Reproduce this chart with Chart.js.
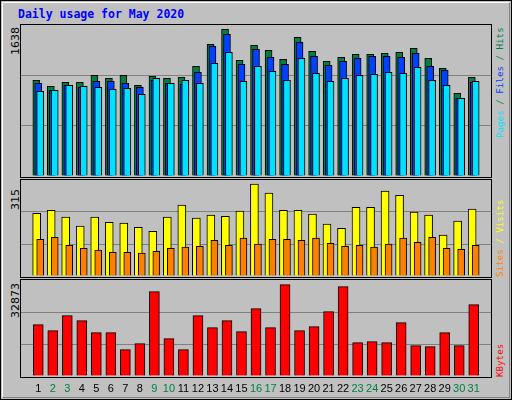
<!DOCTYPE html>
<html><head><meta charset="utf-8">
<script src="https://cdn.jsdelivr.net/npm/chart.js@4/dist/chart.umd.min.js"></script>
<style>
html,body{margin:0;padding:0;background:#fff}
#frame{position:absolute;left:0;top:0;width:510px;height:398px;background:#c0c0c0;border:1px solid #000;}
#inner{position:absolute;left:1px;top:1px;width:506px;height:394px;border-top:1px solid #fff;border-left:1px solid #fff;border-right:1px solid #808080;border-bottom:1px solid #808080}
.box{position:absolute;border:1px solid #000;background:#c0c0c0;box-sizing:content-box}
.t{position:absolute;white-space:nowrap;font-family:"DejaVu Sans Mono",monospace;font-weight:bold;font-size:11.5px}
.rot{position:absolute;transform-origin:0 0;transform:rotate(-90deg);white-space:nowrap;font-family:"DejaVu Sans",sans-serif;font-size:11px}
.rl{position:absolute;transform-origin:0 0;transform:rotate(-90deg);white-space:nowrap;font-family:"DejaVu Sans Mono",monospace;font-size:9.2px;line-height:12px}
canvas{position:absolute}
</style></head><body>
<div id="frame"><div id="inner"></div></div>
<div class="t" style="left:18px;top:7px;color:#0000ff">Daily usage for May 2020</div>
<div class="box" style="left:20px;top:24px;width:470px;height:152px"></div>
<div class="box" style="left:20px;top:179px;width:470px;height:97px"></div>
<div class="box" style="left:20px;top:279px;width:470px;height:97px"></div>
<div class="rot" style="left:9px;top:55px">1638</div>
<div class="rot" style="left:9px;top:210px">315</div>
<div class="rot" style="left:9px;top:318px">32873</div>
<div class="rl" style="left:494px;top:138px"><span style="color:#00e0ff">Pages</span><span style="color:#008040"> / </span><span style="color:#0040ff">Files</span><span style="color:#008040"> / Hits</span></div>
<div class="rl" style="left:494px;top:277px"><span style="color:#ff8000">Sites</span><span style="color:#ffff00"> / Visits</span></div>
<div class="rl" style="left:494px;top:377px;color:#ff0000">KBytes</div>
<canvas id="c1" style="left:21px;top:25px"></canvas>
<canvas id="c2" style="left:21px;top:180px"></canvas>
<canvas id="c3" style="left:21px;top:280px"></canvas>
<script>
const days=[1,2,3,4,5,6,7,8,9,10,11,12,13,14,15,16,17,18,19,20,21,22,23,24,25,26,27,28,29,30,31];
const dayLabels=["1","2","3","4","5","6","7","8","9","10","11","12","13","14","15","16","17","18","19","20","21","22","23","24","25","26","27","28","29","30","31"];
const weekend=[2,3,9,10,16,17,23,24,30,31];
const hits=[1045,979,1023,1023,1099,1067,1099,990,1088,1067,1077,1198,1438,1602,1263,1427,1372,1274,1514,1361,1252,1296,1329,1329,1340,1350,1394,1285,1176,903,1077];
const files=[1012,935,990,968,1034,1034,1012,968,1045,1012,1001,1132,1416,1547,1219,1383,1296,1219,1460,1307,1208,1252,1285,1307,1307,1296,1340,1198,1154,848,1023];
const pages=[925,935,990,979,968,946,957,892,1067,1012,1045,1012,1230,1350,1034,1198,1143,1045,1285,1121,1034,1067,1099,1110,1132,1121,1187,1045,990,848,1034];
const visits=[209,219,196,166,196,179,176,162,149,196,236,193,203,199,216,306,276,219,219,206,173,159,229,229,283,269,213,203,136,183,223];
const sites=[122,129,102,92,86,79,79,76,82,92,96,99,119,102,126,106,122,122,119,126,109,99,102,96,106,126,112,129,92,89,102];
const kbytes=[18080,15966,21249,19488,15262,15262,9275,11388,29702,13149,9275,21249,17023,19488,15614,23715,17023,32168,15966,17375,22658,31463,11740,12092,11740,18784,10683,10331,15262,10683,25124];

const pts=(arr,off)=>arr.map((v,i)=>({x:days[i]+off,y:v}));
const ds=(arr,off,color,w)=>({data:pts(arr,off),backgroundColor:color,borderColor:'#000',borderWidth:1,borderSkipped:'bottom',barThickness:w,grouped:false});
function mk(id,w,h,datasets,ymax,step,showX){
  const c=document.getElementById(id);
  c.width=w;c.height=h;c.style.width=w+'px';c.style.height=h+'px';
  return new Chart(c,{type:'bar',data:{datasets},
    options:{responsive:false,animation:false,devicePixelRatio:1,
      layout:{padding:0},
      plugins:{legend:{display:false},tooltip:{enabled:false}},
      scales:{
        x:{type:'linear',min:0.333,max:31.667,display:showX,
           grid:{display:false,drawTicks:false},border:{display:false},
           afterFit:s=>{s.height=showX?20:0},
           afterBuildTicks:s=>{s.ticks=days.map(d=>({value:d}))},
           ticks:{autoSkip:false,maxRotation:0,padding:6,font:{family:'Liberation Sans',size:11},
             callback:v=>dayLabels[v-1],
             color:ctx=>weekend.includes(days[ctx.index])?'#008040':'#000'}},
        y:{min:0,max:ymax,afterFit:s=>{s.width=0},
           ticks:{display:false,stepSize:step},
           grid:{color:ctx=>(ctx.tick.value>0&&ctx.tick.value<ymax)?'#808080':'rgba(0,0,0,0)',drawTicks:false,lineWidth:1},
           border:{display:false}}
      }}});
}
mk('c1',470,151,[ds(pages,0.133,'#00e0ff',7),ds(files,0,'#0040ff',7),ds(hits,-0.133,'#008040',7)],1649,546,false);
mk('c2',470,96,[ds(sites,0.133,'#ff8000',7),ds(visits,-0.11,'#ffff00',8)],320,105,false);
mk('c3',470,116,[ds(kbytes,0,'#ff0000',10)],33800,10958,true);
</script>
</body></html>
